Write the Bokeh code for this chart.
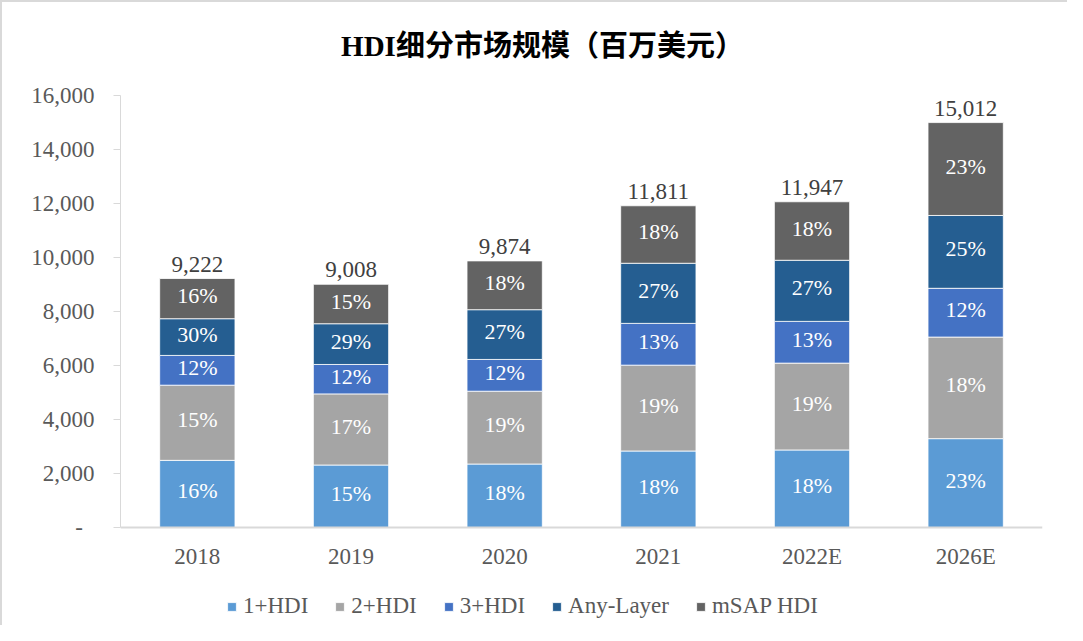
from bokeh.plotting import figure
from bokeh.models import (ColumnDataSource, Legend, LegendItem, FixedTicker, Label,
                          CustomJSTickFormatter, Range1d, FactorRange)
from bokeh.core.properties import value
from bokeh.embed import file_html
from bokeh.resources import INLINE

years = ["2018", "2019", "2020", "2021", "2022E", "2026E"]
series = ["1+HDI", "2+HDI", "3+HDI", "Any-Layer", "mSAP HDI"]
hdi1 = [2487, 2314, 2351, 2833, 2871, 3291]
hdi2 = [2784, 2635, 2697, 3180, 3217, 3762]
hdi3 = [1102, 1089, 1176, 1547, 1546, 1806]
anylayer = [1360, 1509, 1843, 2227, 2264, 2698]
msap = [1489, 1461, 1807, 2129, 2166, 3440]
pct1 = ["16%", "15%", "18%", "18%", "18%", "23%"]
pct2 = ["15%", "17%", "19%", "19%", "19%", "18%"]
pct3 = ["12%", "12%", "12%", "13%", "13%", "12%"]
pct_any = ["30%", "29%", "27%", "27%", "27%", "25%"]
pct_msap = ["16%", "15%", "18%", "18%", "18%", "23%"]
total_labels = ["9,222", "9,008", "9,874", "11,811", "11,947", "15,012"]
y_ticks = [0, 2000, 4000, 6000, 8000, 10000, 12000, 14000, 16000]
colors = ["#5B9BD5", "#A5A5A5", "#4472C4", "#255E91", "#636363"]
title_text = "HDI细分市场规模（百万美元）"

SERIF = "Liberation Serif"
FONT_TITLE = "'Liberation Serif', 'Noto Sans CJK SC'"

data = {"years": years, "1+HDI": hdi1, "2+HDI": hdi2, "3+HDI": hdi3,
        "Any-Layer": anylayer, "mSAP HDI": msap}
src = ColumnDataSource(data)

# layout (canvas pixels)
W, H = 1067, 625
TOP_BORDER, BOTTOM_BORDER = 0, 5
TOP_PX = 93                         # canvas y of value 16000
ZERO_PX = 525                       # canvas y of value 0
YMAX = 16000
frame_bottom = H - BOTTOM_BORDER
per_px = YMAX / (ZERO_PX - TOP_PX)
ymin = -(frame_bottom - ZERO_PX) * per_px
ytop = YMAX + (TOP_PX - TOP_BORDER) * per_px

p = figure(x_range=FactorRange(*years), y_range=Range1d(ymin, ytop),
           width=W, height=H, output_backend="svg", toolbar_location=None,
           min_border_left=118, min_border_right=27, min_border_top=TOP_BORDER,
           min_border_bottom=BOTTOM_BORDER)
p.outline_line_color = None
p.xgrid.grid_line_color = None
p.ygrid.grid_line_color = None
p.x_range.range_padding = 0
p.styles = {"border-top": "2px solid #d9d9d9", "border-left": "2px solid #d9d9d9"}

renderers = p.vbar_stack(series, x="years", width=0.49, color=colors,
                         source=src, line_color="white", line_width=0.8)

# percentage labels centered in segments
stacks = [hdi1, hdi2, hdi3, anylayer, msap]
pcts = [pct1, pct2, pct3, pct_any, pct_msap]
base = [0] * len(years)
for vals, lab in zip(stacks, pcts):
    mids = [b + v / 2 for b, v in zip(base, vals)]
    base = [b + v for b, v in zip(base, vals)]
    p.text(x=years, y=mids, text=lab, text_align="center", text_baseline="middle",
           text_color="white", text_font=value(SERIF), text_font_size="22px",
           y_offset=-3)

# totals
p.text(x=years, y=base, text=total_labels, text_align="center", text_baseline="bottom",
       text_color="#404040", text_font=value(SERIF), text_font_size="23px",
       y_offset=-7)

# axes
p.yaxis.ticker = FixedTicker(ticks=y_ticks)
p.yaxis.bounds = (0, YMAX)
p.yaxis.formatter = CustomJSTickFormatter(code="""
    if (tick == 0) { return "-\u00a0\u00a0"; }
    return tick.toLocaleString('en-US');
""")
p.yaxis.axis_line_color = "#d9d9d9"
p.yaxis.major_tick_line_color = "#d9d9d9"
p.yaxis.major_tick_out = 7
p.yaxis.major_tick_in = 0
p.yaxis.minor_tick_line_color = None
p.yaxis.major_label_text_font = SERIF
p.yaxis.major_label_text_font_size = "23px"
p.yaxis.major_label_text_color = "#595959"
p.yaxis.major_label_standoff = 19

p.xaxis.fixed_location = 0
p.xaxis.axis_line_color = "#d9d9d9"
p.xaxis.axis_line_width = 2
p.xaxis.major_tick_line_color = None
p.xaxis.minor_tick_line_color = None
p.xaxis.major_label_text_font = SERIF
p.xaxis.major_label_text_font_size = "23px"
p.xaxis.major_label_text_color = "#595959"
p.xaxis.major_label_standoff = 10

# title (inside the extended frame)
p.add_layout(Label(x=542 - 120, y=frame_bottom - 43, x_units="screen", y_units="screen",
                   text=title_text, text_align="center", text_baseline="middle",
                   text_font=FONT_TITLE, text_font_size="29px",
                   text_font_style="bold", text_color="black"))

legend = Legend(items=[LegendItem(label=s, renderers=[r]) for s, r in zip(series, renderers)],
                orientation="horizontal", location=(106, 3),
                glyph_width=11, glyph_height=11, label_standoff=6, spacing=26,
                padding=0, margin=0, border_line_color=None,
                background_fill_alpha=0,
                label_text_font=SERIF, label_text_font_size="23px",
                label_text_color="#595959")
p.add_layout(legend, "center")

open("out.html", "w").write(file_html(p, INLINE))
